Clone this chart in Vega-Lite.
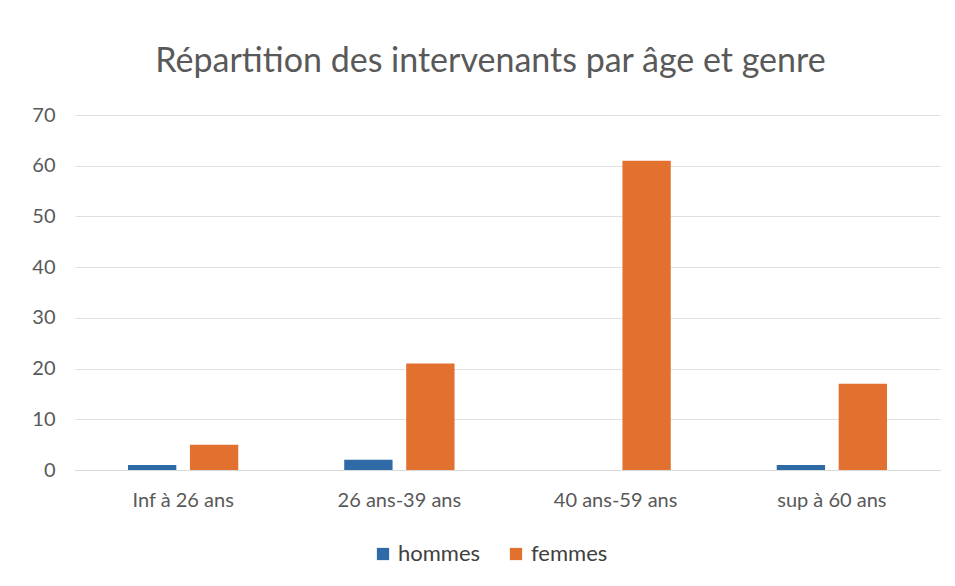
{
  "$schema": "https://vega.github.io/schema/vega-lite/v6.json",
  "autosize": {"type": "none"},
  "width": 865,
  "height": 355,
  "padding": {"left": 75, "top": 115, "right": 15, "bottom": 116},
  "background": "white",
  "title": {
    "text": "Répartition des intervenants par âge et genre",
    "font": "Lato",
    "fontSize": 34,
    "fontWeight": "normal",
    "color": "#595959",
    "anchor": "middle",
    "dx": -17,
    "offset": 26
  },
  "data": {
    "values": [
      {"age": "Inf à 26 ans", "genre": "hommes", "n": 1},
      {"age": "Inf à 26 ans", "genre": "femmes", "n": 5},
      {"age": "26 ans-39 ans", "genre": "hommes", "n": 2},
      {"age": "26 ans-39 ans", "genre": "femmes", "n": 21},
      {"age": "40 ans-59 ans", "genre": "hommes", "n": 0},
      {"age": "40 ans-59 ans", "genre": "femmes", "n": 61},
      {"age": "sup à 60 ans", "genre": "hommes", "n": 1},
      {"age": "sup à 60 ans", "genre": "femmes", "n": 17}
    ]
  },
  "mark": {"type": "bar"},
  "encoding": {
    "x": {
      "field": "age",
      "type": "nominal",
      "sort": ["Inf à 26 ans", "26 ans-39 ans", "40 ans-59 ans", "sup à 60 ans"],
      "scale": {"paddingInner": 0.49, "paddingOuter": 0.245},
      "axis": {
        "title": null,
        "labelAngle": 0,
        "labelFont": "Lato",
        "labelFontSize": 20,
        "labelColor": "#595959",
        "labelPadding": 20,
        "ticks": false,
        "domainColor": "#d9d9d9",
        "grid": false
      }
    },
    "xOffset": {
      "field": "genre",
      "type": "nominal",
      "sort": ["hommes", "femmes"],
      "scale": {"paddingInner": 0.22, "paddingOuter": 0}
    },
    "y": {
      "field": "n",
      "type": "quantitative",
      "scale": {"domain": [0, 70], "nice": false},
      "axis": {
        "title": null,
        "values": [0, 10, 20, 30, 40, 50, 60, 70],
        "labelFont": "Lato",
        "labelFontSize": 20,
        "labelColor": "#595959",
        "labelPadding": 20,
        "ticks": false,
        "domain": false,
        "gridColor": "#e0e0e0",
        "gridWidth": 1
      }
    },
    "color": {
      "field": "genre",
      "type": "nominal",
      "sort": ["hommes", "femmes"],
      "scale": {"domain": ["hommes", "femmes"], "range": ["#2E6AA6", "#E2712F"]},
      "legend": {
        "title": null,
        "orient": "none",
        "legendX": 297,
        "legendY": 428,
        "direction": "horizontal",
        "symbolType": "square",
        "symbolSize": 150,
        "symbolStrokeWidth": 0,
        "labelFont": "Lato",
        "labelFontSize": 22,
        "labelColor": "#404040",
        "columnPadding": 24
      }
    }
  },
  "config": {"view": {"stroke": null}}
}
